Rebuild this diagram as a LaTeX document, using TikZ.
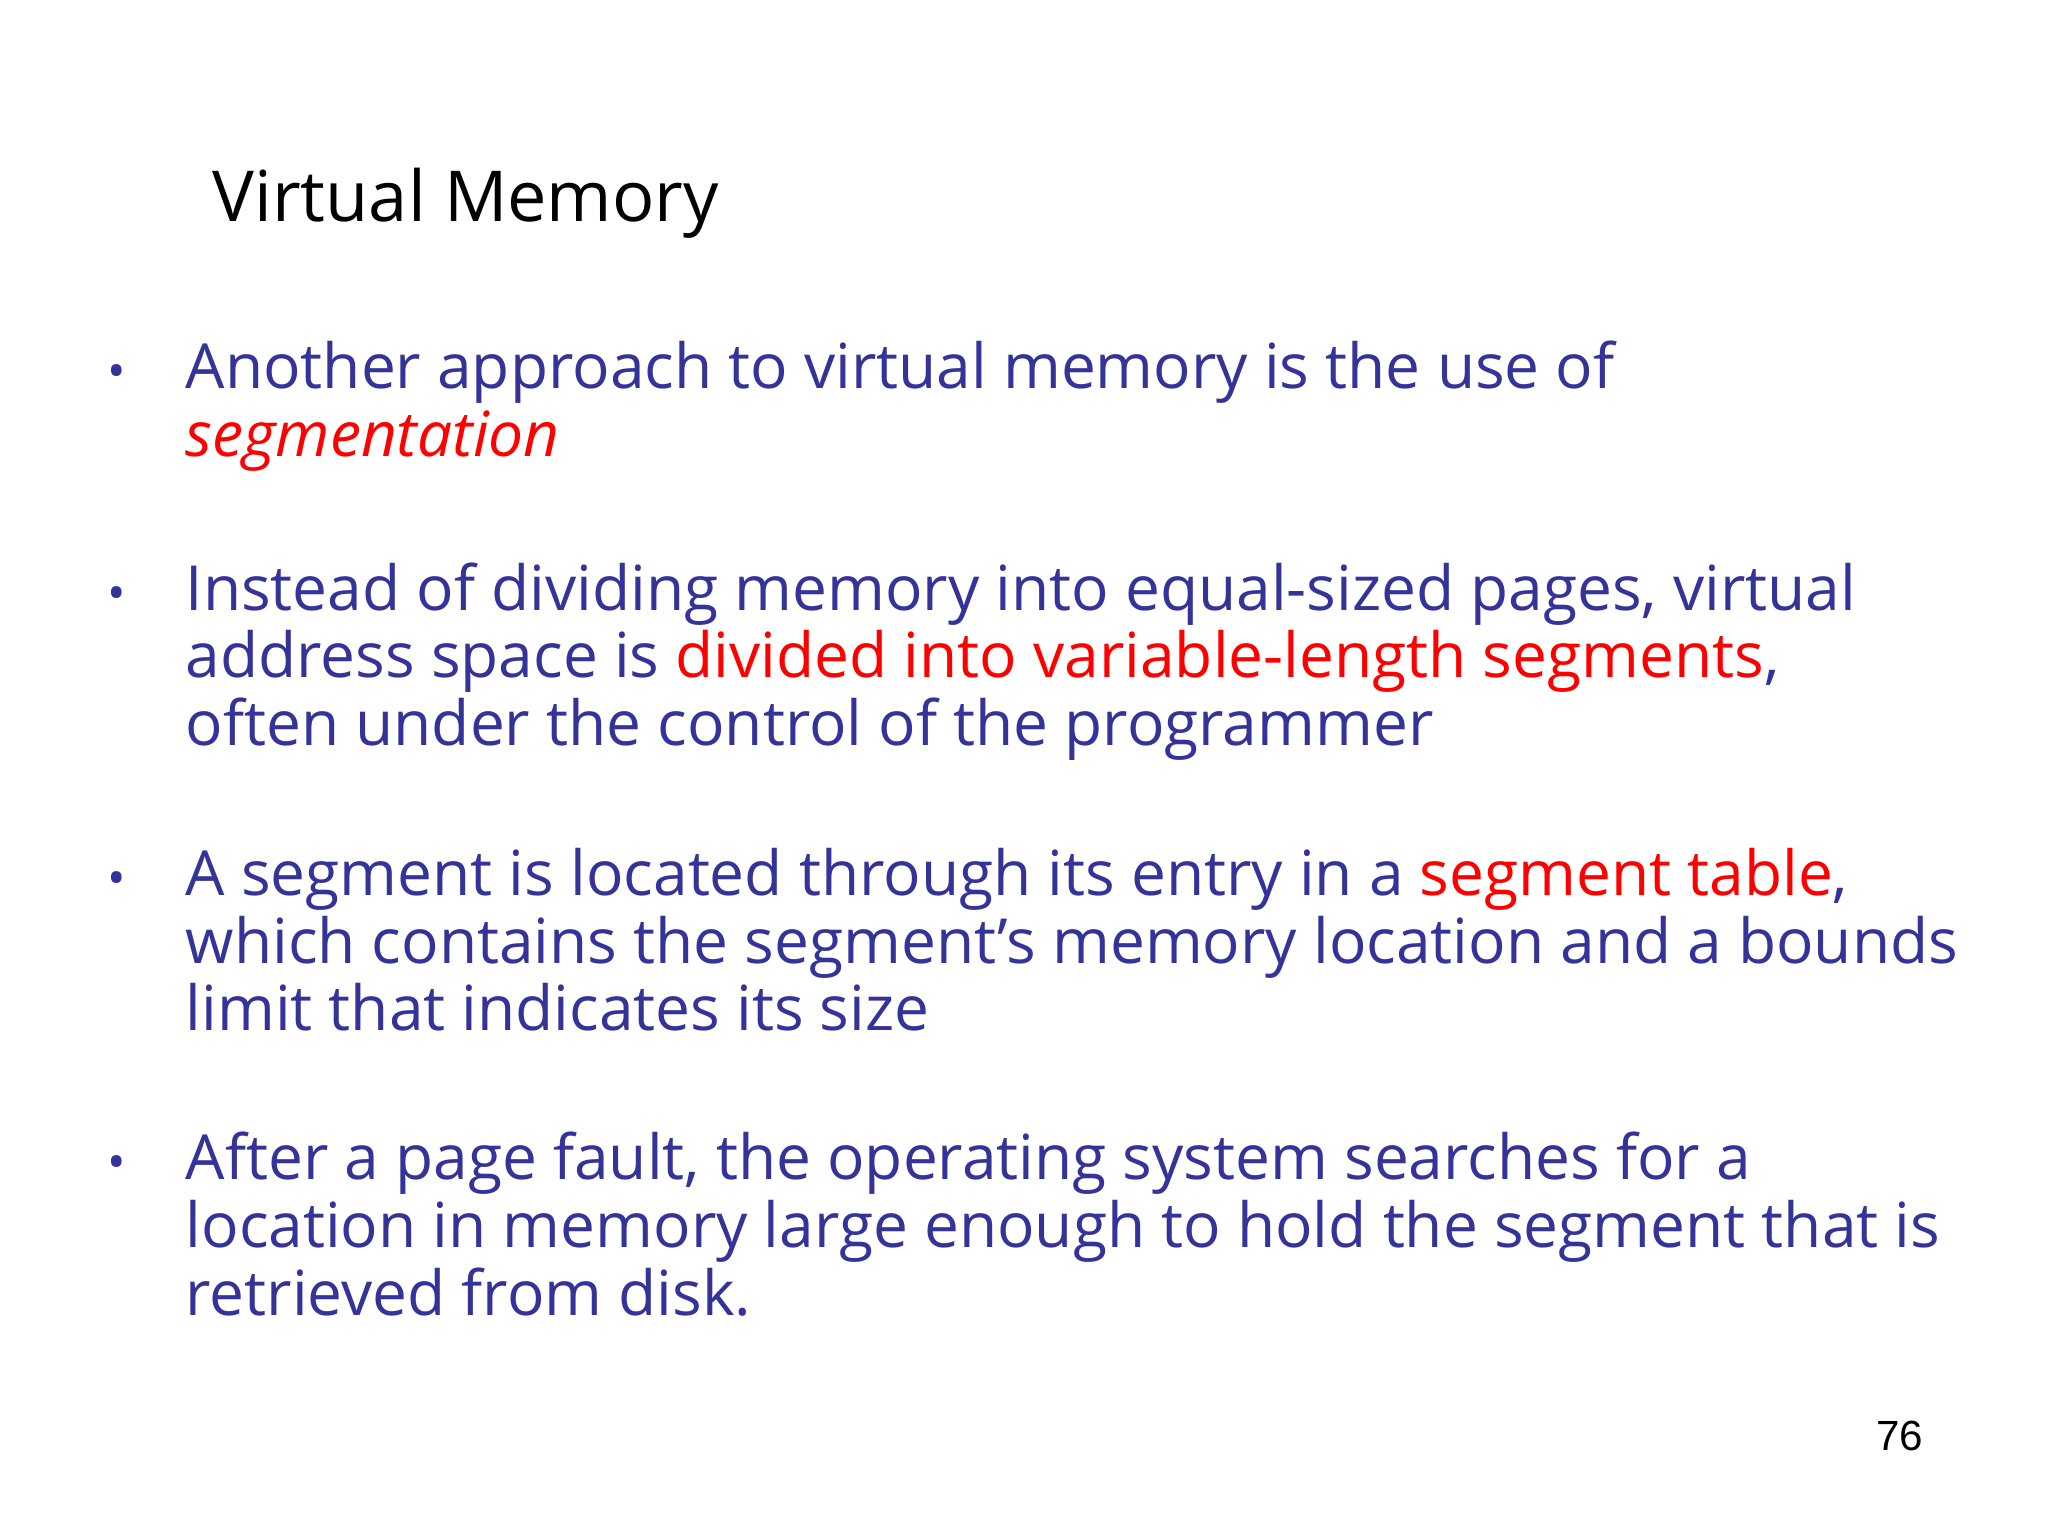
\documentclass[tikz,border=0pt]{standalone}
\usepackage{fontspec}
\setmainfont{Open Sans}
\setsansfont{Liberation Sans}
\definecolor{txtblue}{RGB}{51,51,153}
\definecolor{txtred}{RGB}{255,0,0}
\begin{document}
\begin{tikzpicture}[
  ln/.style={anchor=base west, inner sep=0pt, font=\fontsize{17.7}{21}\selectfont, text=txtblue},
  bul/.style={anchor=base, inner sep=0pt, font=\fontsize{14}{16}\selectfont, text=txtblue}]
\useasboundingbox (0,0) rectangle (20.48,-15.36);
\node[anchor=base west, inner sep=0pt, font=\fontsize{20}{24}\selectfont] (title) at (2.12,-2.22) {Virtual Memory};
\node[bul] (b1) at (1.17,-3.89) {•};
\node[ln] (l11) at (1.85,-3.89) {Another approach to virtual memory is the use of};
\node[ln,text=txtred] (l12) at (1.85,-4.57) {\itshape segmentation};
\node[bul] (b2) at (1.17,-6.10) {•};
\node[ln] (l21) at (1.85,-6.10) {Instead of dividing memory into equal-sized pages, virtual};
\node[ln] (l22) at (1.85,-6.78) {address space is \textcolor{txtred}{divided into variable-length segments},};
\node[ln] (l23) at (1.85,-7.46) {often under the control of the programmer};
\node[bul] (b3) at (1.17,-8.95) {•};
\node[ln] (l31) at (1.85,-8.95) {A segment is located through its entry in a \textcolor{txtred}{segment table},};
\node[ln] (l32) at (1.85,-9.63) {which contains the segment’s memory location and a bounds};
\node[ln] (l33) at (1.85,-10.30) {limit that indicates its size};
\node[bul] (b4) at (1.17,-11.79) {•};
\node[ln] (l41) at (1.85,-11.79) {After a page fault, the operating system searches for a};
\node[ln] (l42) at (1.85,-12.47) {location in memory large enough to hold the segment that is};
\node[ln] (l43) at (1.85,-13.15) {retrieved from disk.};
\node[anchor=base east, inner sep=0pt, font=\sffamily\fontsize{12}{14}\selectfont] (pg) at (19.24,-14.50) {76};
\end{tikzpicture}
\end{document}
